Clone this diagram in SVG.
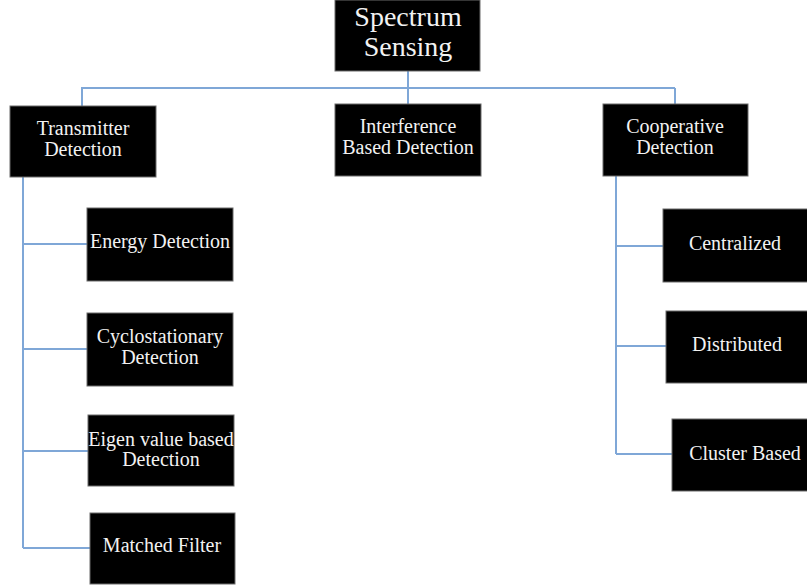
<svg xmlns="http://www.w3.org/2000/svg" width="807" height="586" viewBox="0 0 807 586">
<style>
.box{fill:#000;stroke:#6a6a6a;stroke-width:1}
.t{fill:#f2f2f2;font-size:20px;text-anchor:middle}
.big{font-size:28px}
.c{fill:none;stroke:#7fa7d7;stroke-width:2}
</style>
<rect width="807" height="586" fill="#fff"/>
<g id="connectors">
<path class="c" d="M408 71V88M81 88H675M82 88V106M408 88V104M675 88V104"/>
<path class="c" d="M23 177V548M23 244H87M23 349H87M23 451H88M23 548H90"/>
<path class="c" d="M616 176V454M616 246H663M616 346H666M616 454H672"/>
</g>
<g font-family="Liberation Serif, Tinos, DejaVu Serif, serif">
<g id="spectrum-sensing">
<rect class="box" x="335" y="0" width="145" height="71"/>
<text class="t big" x="408" y="26">Spectrum</text>
<text class="t big" x="408" y="56">Sensing</text>
</g>
<g id="transmitter-detection">
<rect class="box" x="10" y="106" width="146" height="71"/>
<text class="t" x="83" y="135">Transmitter</text>
<text class="t" x="83" y="156">Detection</text>
</g>
<g id="interference-detection">
<rect class="box" x="335" y="104" width="146" height="72"/>
<text class="t" x="408" y="133">Interference</text>
<text class="t" x="408" y="154">Based Detection</text>
</g>
<g id="cooperative-detection">
<rect class="box" x="603" y="104" width="145" height="72"/>
<text class="t" x="675" y="133">Cooperative</text>
<text class="t" x="675" y="154">Detection</text>
</g>
<g id="energy-detection">
<rect class="box" x="87" y="208" width="146" height="73"/>
<text class="t" x="160" y="248">Energy Detection</text>
</g>
<g id="cyclostationary-detection">
<rect class="box" x="87" y="313" width="146" height="73"/>
<text class="t" x="160" y="343">Cyclostationary</text>
<text class="t" x="160" y="364">Detection</text>
</g>
<g id="eigen-detection">
<rect class="box" x="88" y="415" width="146" height="71"/>
<text class="t" x="161" y="446">Eigen value based</text>
<text class="t" x="161" y="466">Detection</text>
</g>
<g id="matched-filter">
<rect class="box" x="90" y="513" width="145" height="71"/>
<text class="t" x="162" y="552">Matched Filter</text>
</g>
<g id="centralized">
<rect class="box" x="663" y="209" width="150" height="73"/>
<text class="t" x="735" y="250">Centralized</text>
</g>
<g id="distributed">
<rect class="box" x="666" y="311" width="150" height="72"/>
<text class="t" x="737" y="351">Distributed</text>
</g>
<g id="cluster-based">
<rect class="box" x="672" y="419" width="150" height="72"/>
<text class="t" x="745" y="460">Cluster Based</text>
</g>
</g>
</svg>
